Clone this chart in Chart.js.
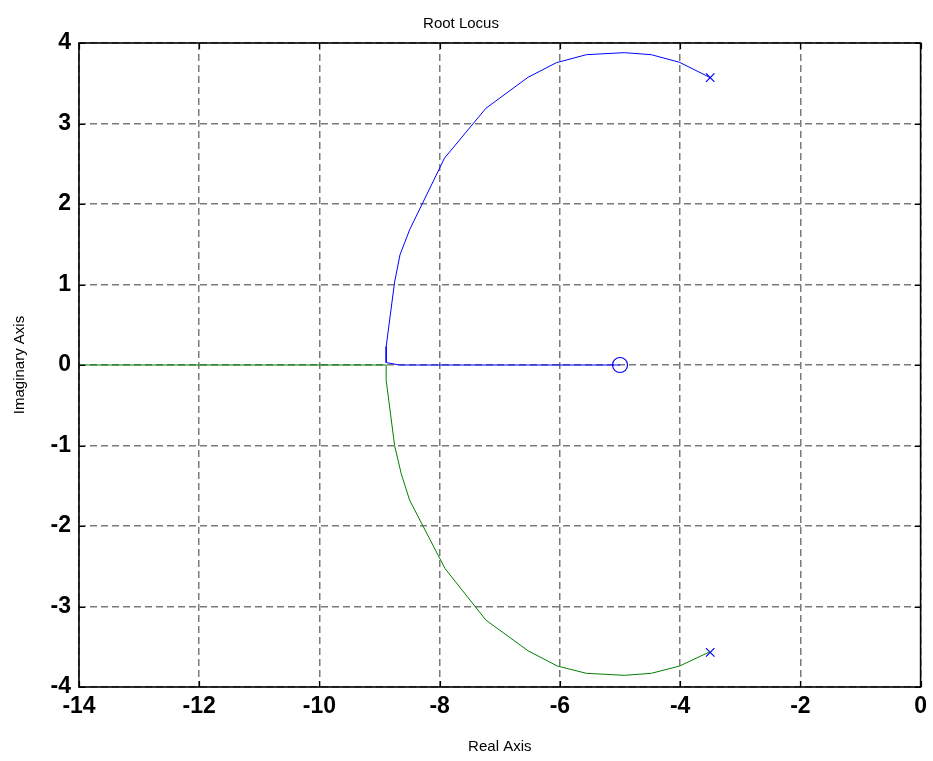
<!DOCTYPE html>
<html>
<head>
<meta charset="utf-8">
<title>Root Locus</title>
<script src="https://cdn.jsdelivr.net/npm/chart.js@4.4.0/dist/chart.umd.min.js"></script>
<style>
    body { margin: 0; background: #fff; }
    canvas { display: block; }
</style>
</head>
<body>
<canvas id="locus" width="933" height="761"></canvas>
<script>
// branch 1 (blue): upper pole -> break-in -> zero
const blueRe = [-3.50, -4.01, -4.48, -4.93, -5.56, -6.06, -6.53, -7.23, -7.92, -8.50, -8.66, -8.75, -8.89, -8.89, -8.67, -5.00];
const blueIm = [3.57, 3.76, 3.855, 3.88, 3.855, 3.755, 3.574, 3.19, 2.57, 1.68, 1.37, 1.03, 0.23, 0.03, 0.0, 0.0];

// branch 2 (green): lower pole -> break-in -> along real axis to -inf
const greenRe = [-3.50, -4.01, -4.48, -4.93, -5.56, -6.04, -6.53, -7.23, -7.91, -8.50, -8.64, -8.75, -8.89, -8.89, -14.0];
const greenIm = [-3.56, -3.74, -3.83, -3.855, -3.83, -3.74, -3.55, -3.17, -2.53, -1.68, -1.35, -1.0, -0.19, 0.0, 0.0];

const poleRe = [-3.5, -3.5];
const poleIm = [3.57, -3.57];
const zeroRe = [-5.0];
const zeroIm = [0.0];

const xTicks = [-14, -12, -10, -8, -6, -4, -2, 0];
const yTicks = [-4, -3, -2, -1, 0, 1, 2, 3, 4];

const pts = (re, im) => re.map((x, i) => ({ x, y: im[i] }));

// MATLAB style box with inward ticks on all four sides
const frameBox = {
    id: "frameBox",
    afterDatasetsDraw(chart) {
        const { ctx, chartArea: a, scales } = chart;
        const len = 6;
        ctx.save();
        ctx.strokeStyle = "#000";
        ctx.lineWidth = 1.2;
        ctx.beginPath();
        xTicks.forEach((v) => {
            const px = Math.round(scales.x.getPixelForValue(v)) + 0.5;
            ctx.moveTo(px, a.bottom);
            ctx.lineTo(px, a.bottom - len);
            ctx.moveTo(px, a.top);
            ctx.lineTo(px, a.top + len);
        });
        yTicks.forEach((v) => {
            const py = Math.round(scales.y.getPixelForValue(v)) + 0.5;
            ctx.moveTo(a.left, py);
            ctx.lineTo(a.left + len, py);
            ctx.moveTo(a.right, py);
            ctx.lineTo(a.right - len, py);
        });
        ctx.stroke();
        ctx.lineWidth = 1.6;
        ctx.strokeRect(a.left, a.top, a.right - a.left, a.bottom - a.top);
        ctx.restore();
    },
};

const tickFont = { family: "'Liberation Sans', Arial, sans-serif", size: 23, weight: "bold" };
const labelFont = { family: "'Liberation Sans', Arial, sans-serif", size: 15, weight: "normal" };

new Chart(document.getElementById("locus"), {
    type: "scatter",
    data: {
        datasets: [
            {
                label: "branch 1",
                data: pts(blueRe, blueIm),
                showLine: true,
                borderColor: "#0000ff",
                borderWidth: 1,
                pointRadius: 0,
                tension: 0,
            },
            {
                label: "branch 2",
                data: pts(greenRe, greenIm),
                showLine: true,
                borderColor: "#008000",
                borderWidth: 1,
                pointRadius: 0,
                tension: 0,
            },
            {
                label: "poles",
                data: pts(poleRe, poleIm),
                showLine: false,
                pointStyle: "crossRot",
                pointRadius: 6,
                borderColor: "#0000ff",
                borderWidth: 1.2,
            },
            {
                label: "zero",
                data: pts(zeroRe, zeroIm),
                showLine: false,
                pointStyle: "circle",
                pointRadius: 7.5,
                borderColor: "#0000ff",
                backgroundColor: "rgba(0,0,0,0)",
                borderWidth: 1.2,
            },
        ],
    },
    options: {
        responsive: false,
        animation: false,
        layout: { padding: { top: 0, right: 11, bottom: 0, left: 0 } },
        plugins: {
            legend: { display: false },
            tooltip: { enabled: false },
            title: {
                display: true,
                text: "Root Locus",
                color: "#000",
                font: labelFont,
                padding: { top: 15, bottom: 10 },
            },
        },
        scales: {
            x: {
                type: "linear",
                min: -14,
                max: 0,
                afterFit: (scale) => { scale.height = 74; },
                afterBuildTicks: (scale) => { scale.ticks = xTicks.map((v) => ({ value: v })); },
                ticks: {
                    color: "#000",
                    font: tickFont,
                    padding: 6,
                    maxRotation: 0,
                    callback: (v) => String(v),
                },
                grid: { color: "#7a7a7a", lineWidth: 1.5, drawTicks: false },
                border: { display: false, dash: [7, 4] },
                title: {
                    display: true,
                    text: "Real Axis",
                    color: "#000",
                    font: labelFont,
                    padding: { top: 0, bottom: 5 },
                },
            },
            y: {
                type: "linear",
                min: -4,
                max: 4,
                afterFit: (scale) => { scale.width = 79; },
                afterBuildTicks: (scale) => { scale.ticks = yTicks.map((v) => ({ value: v })); },
                ticks: {
                    color: "#000",
                    font: tickFont,
                    padding: 8,
                    callback: (v) => String(v),
                },
                grid: { color: "#7a7a7a", lineWidth: 1.5, drawTicks: false },
                border: { display: false, dash: [7, 4] },
                title: {
                    display: true,
                    text: "Imaginary Axis",
                    color: "#000",
                    font: labelFont,
                    padding: { top: 11, bottom: 0 },
                },
            },
        },
    },
    plugins: [frameBox],
});
</script>
</body>
</html>
